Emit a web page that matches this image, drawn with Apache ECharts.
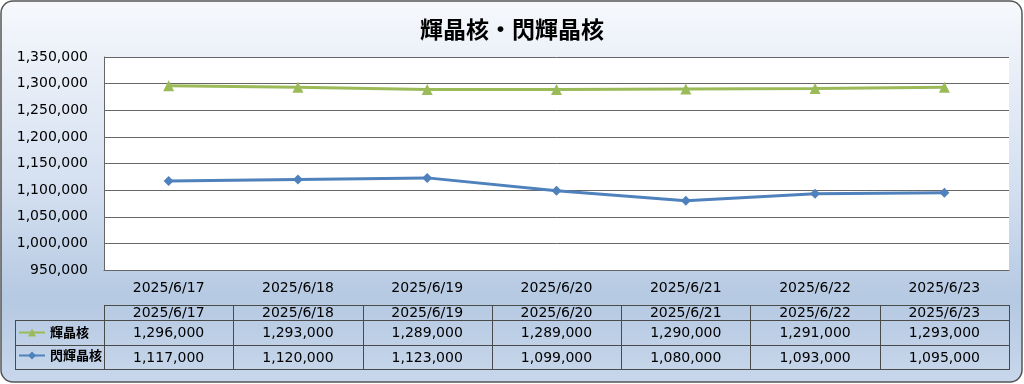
<!DOCTYPE html>
<html><head><meta charset="utf-8">
<script src="https://cdn.jsdelivr.net/npm/echarts@6/dist/echarts.min.js"></script>
<style>html,body{margin:0;padding:0;background:#fff}#c{width:1024px;height:384px}</style>
</head><body><div id="c"></div>
<script>
const titleText = '輝晶核・閃輝晶核';
const categories = ['2025/6/17','2025/6/18','2025/6/19','2025/6/20','2025/6/21','2025/6/22','2025/6/23'];
const seriesNames = ['輝晶核','閃輝晶核'];
const kiShoukaku = [1296000,1293000,1289000,1289000,1290000,1291000,1293000];
const senKiShoukaku = [1117000,1120000,1123000,1099000,1080000,1093000,1095000];
const yMin = 950000, yMax = 1350000, yStep = 50000;

const fmt = v => v.toLocaleString('en-US');
const numFont = 'DejaVu Sans';
const cjkFont = 'Noto Sans CJK JP';

const chart = echarts.init(document.getElementById('c'));
const option = {
  animation: false,
  backgroundColor: 'transparent',
  title: {
    text: titleText, left: 'center', top: 13,
    textStyle: {fontFamily: cjkFont, fontSize: 23, fontWeight: 'bold', color: '#000'}
  },
  legend: {
    orient: 'vertical', left: 18, top: 326, itemGap: 10, padding: 0,
    itemWidth: 26, itemHeight: 10,
    data: seriesNames,
    textStyle: {fontFamily: cjkFont, fontSize: 13, fontWeight: 'bold', color: '#000'}
  },
  grid: {left: 104, right: 15, top: 57, bottom: 114, show: true, backgroundColor: '#fff', borderWidth: 0},
  xAxis: {
    type: 'category', data: categories, boundaryGap: true,
    axisTick: {show: false},
    axisLine: {lineStyle: {color: '#666', width: 1}},
    axisLabel: {margin: 11, fontFamily: numFont, fontSize: 14, color: '#000'}
  },
  yAxis: {
    type: 'value', min: yMin, max: yMax, interval: yStep,
    axisLine: {show: true, lineStyle: {color: '#666', width: 1}},
    axisTick: {show: false},
    splitLine: {lineStyle: {color: '#666', width: 1}},
    axisLabel: {margin: 16, fontFamily: numFont, fontSize: 14, color: '#000', formatter: v => fmt(v)}
  },
  series: [
    {name: seriesNames[0], type: 'line', data: kiShoukaku, color: '#9bbb59',
     symbol: 'triangle', symbolSize: 11, lineStyle: {width: 3}, itemStyle: {color: '#9bbb59'}},
    {name: seriesNames[1], type: 'line', data: senKiShoukaku, color: '#4f81bd',
     symbol: 'diamond', symbolSize: 10, lineStyle: {width: 3}, itemStyle: {color: '#4f81bd'}}
  ]
};
chart.setOption(option);

// Data table under the chart, aligned with the category axis
const x0 = chart.convertToPixel({xAxisIndex: 0}, categories[0]);
const x1 = chart.convertToPixel({xAxisIndex: 0}, categories[1]);
const colW = x1 - x0;
const tLeft = x0 - colW / 2;
const tRight = tLeft + colW * categories.length;
const labelLeft = 15;
const rowY = [305, 320, 345, 369];
const lineColor = '#4a4a4a';
const els = [];
// background
els.push({
  type: 'rect', z: -100, silent: true,
  shape: {x: 1, y: 1, width: 1021, height: 381, r: 12},
  style: {
    fill: new echarts.graphic.LinearGradient(0, 0, 0, 1, [
      {offset: 0, color: '#f6f8fc'},
      {offset: 0.5, color: '#d3dff0'},
      {offset: 0.78, color: '#b5c9e2'},
      {offset: 1, color: '#c8d7eb'}
    ]),
    stroke: '#555', lineWidth: 1.5
  }
});
const hline = (xa, xb, y) => els.push({type: 'line', z: 10, silent: true,
  shape: {x1: xa, y1: y + 0.5, x2: xb, y2: y + 0.5}, style: {stroke: lineColor, lineWidth: 1}});
const vline = (x, ya, yb) => els.push({type: 'line', z: 10, silent: true,
  shape: {x1: Math.round(x) + 0.5, y1: ya, x2: Math.round(x) + 0.5, y2: yb + 1}, style: {stroke: lineColor, lineWidth: 1}});
hline(tLeft, tRight, rowY[0]);
hline(labelLeft, tRight, rowY[1]);
hline(labelLeft, tRight, rowY[2]);
hline(labelLeft, tRight, rowY[3]);
vline(labelLeft, rowY[1], rowY[3]);
for (let i = 0; i <= categories.length; i++) vline(tLeft + i * colW, rowY[0], rowY[3]);
const cellText = (x, y, t) => els.push({type: 'text', z: 11, silent: true, x: x, y: y,
  style: {text: t, fill: '#000', font: '14px "' + numFont + '"', align: 'center', verticalAlign: 'middle'}});
const rows = [kiShoukaku, senKiShoukaku];
categories.forEach((c, i) => {
  const cx = chart.convertToPixel({xAxisIndex: 0}, c);
  cellText(cx, (rowY[0] + rowY[1]) / 2 + 1, c);
  rows.forEach((r, j) => cellText(cx, (rowY[j + 1] + rowY[j + 2]) / 2 + 1, fmt(r[i])));
});
chart.setOption({graphic: els});
</script></body></html>
